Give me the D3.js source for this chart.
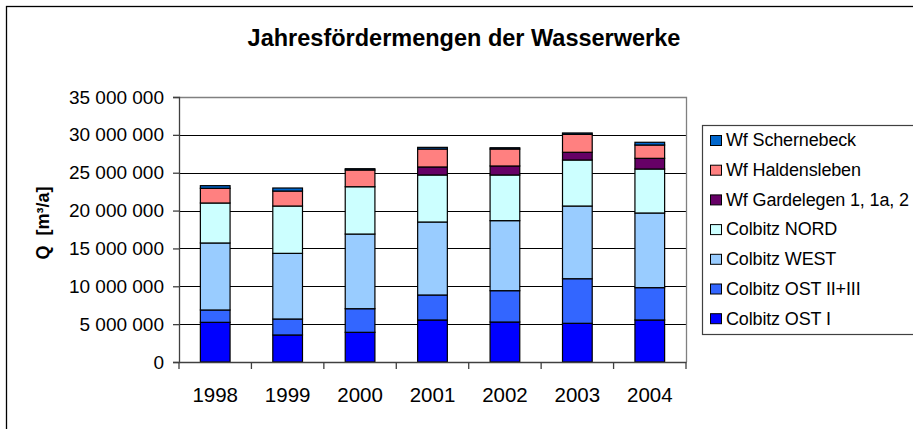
<!DOCTYPE html>
<html>
<head>
<meta charset="utf-8">
<script src="https://cdn.jsdelivr.net/npm/d3@7"></script>
<style>
  body { margin: 0; background: #fff; }
  svg { display: block; font-family: "Liberation Sans", Arial, sans-serif; }
</style>
</head>
<body>
<svg width="913" height="429"></svg>
<script>
// data (m³ per year, millions)
const years = ["1998", "1999", "2000", "2001", "2002", "2003", "2004"];
const colbitzOst1   = [5.24, 3.57, 3.92, 5.55, 5.28, 5.11, 5.55];
const colbitzOst23  = [1.63, 2.11, 3.12, 3.30, 4.14, 5.89, 4.27];
const colbitzWest   = [8.85, 8.67, 9.86, 9.64, 9.25, 9.60, 9.86];
const colbitzNord   = [5.28, 6.25, 6.25, 6.21, 6.03, 6.08, 5.81];
const gardelegen    = [0, 0, 0, 1.06, 1.19, 1.02, 1.41];
const haldensleben  = [1.94, 1.98, 2.21, 2.37, 2.24, 2.37, 1.76];
const schernebeck   = [0.35, 0.40, 0.17, 0.22, 0.17, 0.18, 0.36];
const yTicks = [0, 5e6, 10e6, 15e6, 20e6, 25e6, 30e6, 35e6];

const series = [
  {name: "Colbitz OST I", values: colbitzOst1, color: "#0000ff"},
  {name: "Colbitz OST II+III", values: colbitzOst23, color: "#3366ff"},
  {name: "Colbitz WEST", values: colbitzWest, color: "#99ccff"},
  {name: "Colbitz NORD", values: colbitzNord, color: "#ccffff"},
  {name: "Wf Gardelegen 1, 1a, 2", values: gardelegen, color: "#660066"},
  {name: "Wf Haldensleben", values: haldensleben, color: "#ff8080"},
  {name: "Wf Schernebeck", values: schernebeck, color: "#0066cc"}
];

let svg = d3.select("svg");
let plot = {left: 179, right: 686, top: 97, bottom: 362};

// outer chart frame (right and bottom run past the picture)
svg.append("rect")
  .attr("x", 6.5).attr("y", 6.5)
  .attr("width", 1000).attr("height", 1000)
  .attr("fill", "none").attr("stroke", "#000").attr("stroke-width", 1.3);

svg.append("text")
  .attr("x", 464).attr("y", 46)
  .attr("text-anchor", "middle")
  .style("font-weight", "bold").style("font-size", "23.5px")
  .text("Jahresfördermengen der Wasserwerke");

let rows = years.map(function(y, i) {
  let r = {year: y};
  series.forEach(function(s) { r[s.name] = s.values[i] * 1e6; });
  return r;
});
let stacked = d3.stack().keys(series.map(s => s.name))(rows);

let x = d3.scaleBand()
  .domain(years)
  .range([plot.left, plot.right])
  .paddingInner(0.59)
  .paddingOuter(0.295);

let y = d3.scaleLinear()
  .domain([0, 35e6])
  .range([plot.bottom, plot.top]);

let fmt = d3.formatLocale({decimal: ",", thousands: " ", grouping: [3], currency: ["", ""]}).format(",d");

// gridlines
svg.append("g")
  .selectAll("line")
  .data(yTicks.filter(d => d > 0 && d < 35e6))
  .join("line")
    .attr("x1", plot.left).attr("x2", plot.right)
    .attr("y1", d => Math.round(y(d)) + 0.5).attr("y2", d => Math.round(y(d)) + 0.5)
    .attr("stroke", "#000").attr("stroke-width", 1);

// plot frame top and right
svg.append("path")
  .attr("d", `M${plot.left},${plot.top + 0.5}H${plot.right + 0.5}V${plot.bottom}`)
  .attr("fill", "none").attr("stroke", "#808080").attr("stroke-width", 1.3);

// bars
svg.append("g")
  .selectAll("g")
  .data(stacked)
  .join("g")
    .attr("fill", (d, i) => series[i].color)
  .selectAll("rect")
  .data(d => d.filter(p => p[1] - p[0] > 0))
  .join("rect")
    .attr("x", d => x(d.data.year))
    .attr("y", d => y(d[1]))
    .attr("width", x.bandwidth())
    .attr("height", d => y(d[0]) - y(d[1]))
    .attr("stroke", "#000").attr("stroke-width", 1.2);

// y axis
let yAxis = svg.append("g")
  .attr("transform", `translate(${plot.left},0)`)
  .call(d3.axisLeft(y).tickValues(yTicks).tickFormat(fmt).tickSizeOuter(0).tickSize(6).tickPadding(9));
yAxis.selectAll("text").style("font-size", "19px").attr("fill", "#000");
yAxis.selectAll("line, path").attr("stroke", "#404040").attr("stroke-width", 1.3);

// x axis: labels under bars, ticks on category boundaries
let xAxis = svg.append("g")
  .attr("transform", `translate(0,${plot.bottom})`)
  .call(d3.axisBottom(x).tickSize(0).tickPadding(25).tickSizeOuter(0));
xAxis.selectAll("text").style("font-size", "20.5px").attr("fill", "#000");
xAxis.select("path").attr("stroke", "#404040").attr("stroke-width", 1.3);

let half = x.step() * x.paddingInner() / 2;
let bounds = years.map(d => x(d) - half).concat([x(years[years.length - 1]) + x.bandwidth() + half]);
xAxis.selectAll("line.bound")
  .data(bounds)
  .join("line")
    .attr("class", "bound")
    .attr("x1", d => d).attr("x2", d => d)
    .attr("y1", 0).attr("y2", 7)
    .attr("stroke", "#404040").attr("stroke-width", 1.3);

// y axis title
svg.append("text")
  .attr("transform", "translate(49,223) rotate(-90)")
  .attr("text-anchor", "middle")
  .style("font-weight", "bold").style("font-size", "18px")
  .attr("xml:space", "preserve")
  .text("Q  [m³/a]");

// legend
let legend = svg.append("g");
legend.append("rect")
  .attr("x", 702.5).attr("y", 125.5)
  .attr("width", 300).attr("height", 209)
  .attr("fill", "#fff").attr("stroke", "#404040").attr("stroke-width", 1.2);

let items = legend.selectAll("g.item")
  .data(series.slice().reverse())
  .join("g")
    .attr("class", "item")
    .attr("transform", (d, i) => `translate(710,${140 + i * 29.7})`);
items.append("rect")
  .attr("x", 0.5).attr("y", -4.5)
  .attr("width", 11).attr("height", 10)
  .attr("fill", d => d.color)
  .attr("stroke", "#000").attr("stroke-width", 1);
items.append("text")
  .attr("x", 16).attr("y", 0)
  .attr("dy", "0.35em")
  .style("font-size", "18px")
  .style("letter-spacing", "-0.15px")
  .text(d => d.name);
</script>
</body>
</html>
